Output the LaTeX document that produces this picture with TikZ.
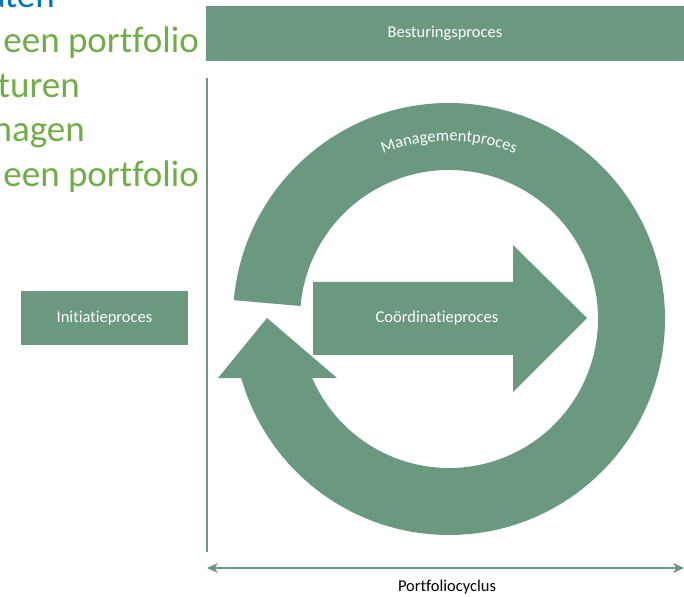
\documentclass[tikz,border=0pt]{standalone}
\usepackage{fontspec}
\setmainfont{Carlito}[Ligatures=NoCommon]
\usepackage{tikz}
\usetikzlibrary{arrows.meta,decorations.text,calc}
\definecolor{procgroen}{RGB}{107,153,128}
\definecolor{tekstgroen}{RGB}{112,173,71}
\definecolor{tekstblauw}{RGB}{0,112,192}

\begin{document}
\begin{tikzpicture}[x=1pt,y=1pt,
    procbox/.style={fill=procgroen, text=white, font=\fontsize{16.5}{20}\selectfont, inner sep=0pt},
    lijst/.style={text=tekstgroen, font=\fontsize{37}{44}\selectfont, inner sep=0pt, anchor=base east},
    proclijn/.style={procgroen, line width=2.5pt}]
    \useasboundingbox (0,0) rectangle (684,596);
    % Lijst (links afgesneden)
    \node[lijst, text=tekstblauw] (l1) at (55,588) {aten};
    \node[lijst] (l2) at (199,543) {een portfolio};
    \node[lijst] (l3) at (80,498) {turen};
    \node[lijst] (l4) at (85,454) {nagen};
    \node[lijst] (l5) at (199,409) {een portfolio};
    % Besturing en initiatie
    \node[procbox, minimum width=478pt, minimum height=55pt] (besturing) at (445,562.5) {Besturingsproces};
    \node[procbox, minimum width=167pt, minimum height=54pt] (initiatie) at (104.5,278) {Initiatieproces};
    % Scheidingslijn
    \coordinate (lijnboven) at (207,518);
    \coordinate (lijnonder) at (207,44);
    \draw[proclijn] (lijnboven) -- (lijnonder);
    % Portfoliocyclus
    \coordinate (cyclinks) at (207,28);
    \coordinate (cycrechts) at (684,28);
    \draw[proclijn, {Stealth[length=11pt,width=10pt]}-{Stealth[length=11pt,width=10pt]}] (cyclinks) -- (cycrechts);
    \node[font=\fontsize{16.5}{20}\selectfont, inner sep=0pt] (cyclus) at (447,9) {Portfoliocyclus};
    % Managementproces (cirkelpijl)
    \coordinate (mid) at (449,277);
    \fill[procgroen] ($(mid)+(175:216)$) arc[start angle=175, end angle=-164.1, radius=216]
        -- (218,218) -- (267,278) -- (337,218)
        -- ($(mid)+(-156.7:149)$) arc[start angle=-156.7, end angle=175, radius=149] -- cycle;
    \path[decorate, decoration={text along path, text align=center,
        text={|\color{white}\fontsize{16.5}{18}\selectfont|Managementproces}}]
        ($(mid)+(135:178)$) arc[start angle=135, end angle=45, radius=178];
    % Coordinatie (rechte pijl)
    \fill[procgroen] (313,241) -- (513,241) -- (513,204) -- (587,278)
        -- (513,351) -- (513,314) -- (313,314) -- cycle;
    \node[text=white, font=\fontsize{16.5}{20}\selectfont, inner sep=0pt] (coordinatie) at (437,278) {Coördinatieproces};
\end{tikzpicture}
\end{document}
